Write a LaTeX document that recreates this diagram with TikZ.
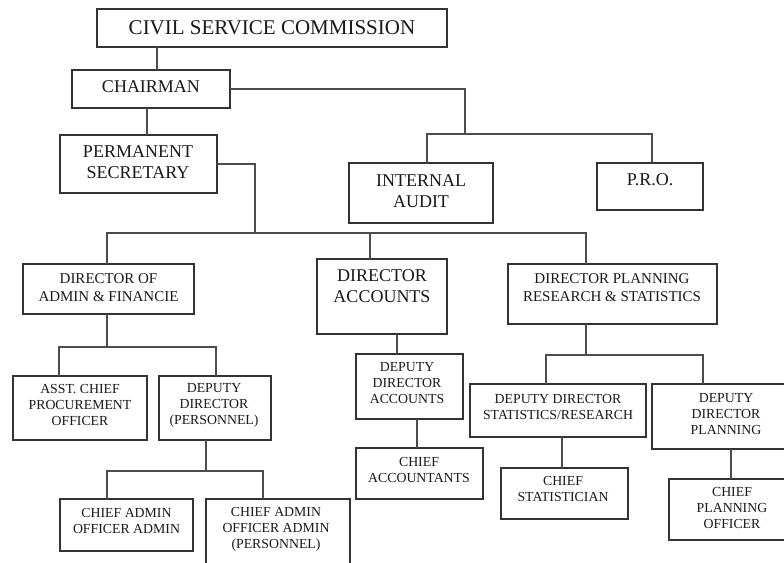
\documentclass[tikz,border=0pt]{standalone}
\usepackage{fontspec}
\setmainfont{Liberation Serif}
\tikzset{
  box/.style={draw=black!80, line width=0.9pt, rectangle, inner sep=0pt, outer sep=0pt, anchor=north west},
  conn/.style={draw=black!70, line width=0.9pt},
  tA/.style={font=\fontsize{15.75}{18}\selectfont, align=center, inner sep=0pt, text=black!90},
  tB/.style={font=\fontsize{13.5}{15.75}\selectfont, align=center, inner sep=0pt, text=black!90},
  tC/.style={font=\fontsize{11.25}{13.5}\selectfont, align=center, inner sep=0pt, text=black!90},
  tD/.style={font=\fontsize{10.35}{12}\selectfont, align=center, inner sep=0pt, text=black!90},
}
\newcommand\orgbox[5]{\node[box, minimum width={(#4-#2)*0.75pt}, minimum height={(#5-#3)*0.75pt}] (#1) at (#2,#3) {};}
\begin{document}
\begin{tikzpicture}[x=0.75pt, y=-0.75pt]
\useasboundingbox (0,0) rectangle (784,562);
\fill[white] (0,0) rectangle (784,562);
\clip (0,0) rectangle (784,562);

% boxes
\orgbox{csc}{97}{9}{447}{47}
\orgbox{chair}{72}{70}{230}{108}
\orgbox{ps}{60}{135}{217}{193}
\orgbox{ia}{349}{163}{493}{223}
\orgbox{pro}{597}{163}{703}{210}
\orgbox{daf}{23}{264}{194}{314}
\orgbox{da}{317}{259}{447}{334}
\orgbox{dprs}{508}{264}{717}{324}
\orgbox{acpo}{13}{376}{147}{440}
\orgbox{ddp}{159}{376}{271}{440}
\orgbox{caoa}{60}{499}{193}{551}
\orgbox{caoap}{206}{499}{350}{580}
\orgbox{dda}{356}{354}{463}{419}
\orgbox{ca}{356}{448}{483}{499}
\orgbox{ddsr}{470}{384}{646}{437}
\orgbox{ddpl}{652}{384}{800}{449}
\orgbox{cs}{501}{468}{628}{519}
\orgbox{cpo}{669}{479}{795}{540}

% texts
\node[tA] (csc-t) at (272,28) {CIVIL SERVICE COMMISSION};
\node[tB] (chair-t) at (151,87) {CHAIRMAN};
\node[tB] (ps-t) at (138,162) {PERMANENT\\SECRETARY};
\node[tB] (ia-t) at (421,191) {INTERNAL\\AUDIT};
\node[tB] (pro-t) at (650,180) {P.R.O.};
\node[tC] (daf-t) at (108.5,288) {DIRECTOR OF\\ADMIN \& FINANCIE};
\node[tB] (da-t) at (382,286) {DIRECTOR\\ACCOUNTS};
\node[tC] (dprs-t) at (612,288) {DIRECTOR PLANNING\\RESEARCH \& STATISTICS};
\node[tD] (acpo-t) at (80,405) {ASST. CHIEF\\PROCUREMENT\\OFFICER};
\node[tD] (ddp-t) at (214,405) {DEPUTY\\DIRECTOR\\(PERSONNEL)};
\node[tD] (caoa-t) at (126.5,521) {CHIEF ADMIN\\OFFICER ADMIN};
\node[tD] (caoap-t) at (276,529) {CHIEF ADMIN\\OFFICER ADMIN\\(PERSONNEL)};
\node[tD] (dda-t) at (407,383.5) {DEPUTY\\DIRECTOR\\ACCOUNTS};
\node[tD] (ca-t) at (419,469.5) {CHIEF\\ACCOUNTANTS};
\node[tD] (ddsr-t) at (558,406.5) {DEPUTY DIRECTOR\\STATISTICS/RESEARCH};
\node[tD] (ddpl-t) at (726,414) {DEPUTY\\DIRECTOR\\PLANNING};
\node[tD] (cs-t) at (563,488.5) {CHIEF\\STATISTICIAN};
\node[tD] (cpo-t) at (732,508) {CHIEF\\PLANNING\\OFFICER};

% junctions
\coordinate (j1) at (465,134);
\coordinate (j2) at (255,233);
\coordinate (j3) at (107,347);
\coordinate (j4) at (206,471);
\coordinate (j5) at (586,355);

% connectors
\draw[conn] (157,0 |- csc.south) -- (157,0 |- chair.north);
\draw[conn] (147,0 |- chair.south) -- (147,0 |- ps.north);
\draw[conn] (chair.east) -| (j1);
\draw[conn] (427,0 |- ia.north) -- (427,0 |- j1) -- (652,0 |- j1) -- (652,0 |- pro.north);
\draw[conn] (ps.east) -| (j2);
\draw[conn] (107,0 |- daf.north) -- (107,0 |- j2) -- (586,0 |- j2) -- (586,0 |- dprs.north);
\draw[conn] (370,0 |- j2) -- (370,0 |- da.north);
\draw[conn] (107,0 |- daf.south) -- (j3);
\draw[conn] (59,0 |- acpo.north) -- (59,0 |- j3) -- (216,0 |- j3) -- (216,0 |- ddp.north);
\draw[conn] (206,0 |- ddp.south) -- (j4);
\draw[conn] (107,0 |- caoa.north) -- (107,0 |- j4) -- (263,0 |- j4) -- (263,0 |- caoap.north);
\draw[conn] (397,0 |- da.south) -- (397,0 |- dda.north);
\draw[conn] (417,0 |- dda.south) -- (417,0 |- ca.north);
\draw[conn] (586,0 |- dprs.south) -- (j5);
\draw[conn] (546,0 |- ddsr.north) -- (546,0 |- j5) -- (703,0 |- j5) -- (703,0 |- ddpl.north);
\draw[conn] (562,0 |- ddsr.south) -- (562,0 |- cs.north);
\draw[conn] (731,0 |- ddpl.south) -- (731,0 |- cpo.north);
\end{tikzpicture}
\end{document}
